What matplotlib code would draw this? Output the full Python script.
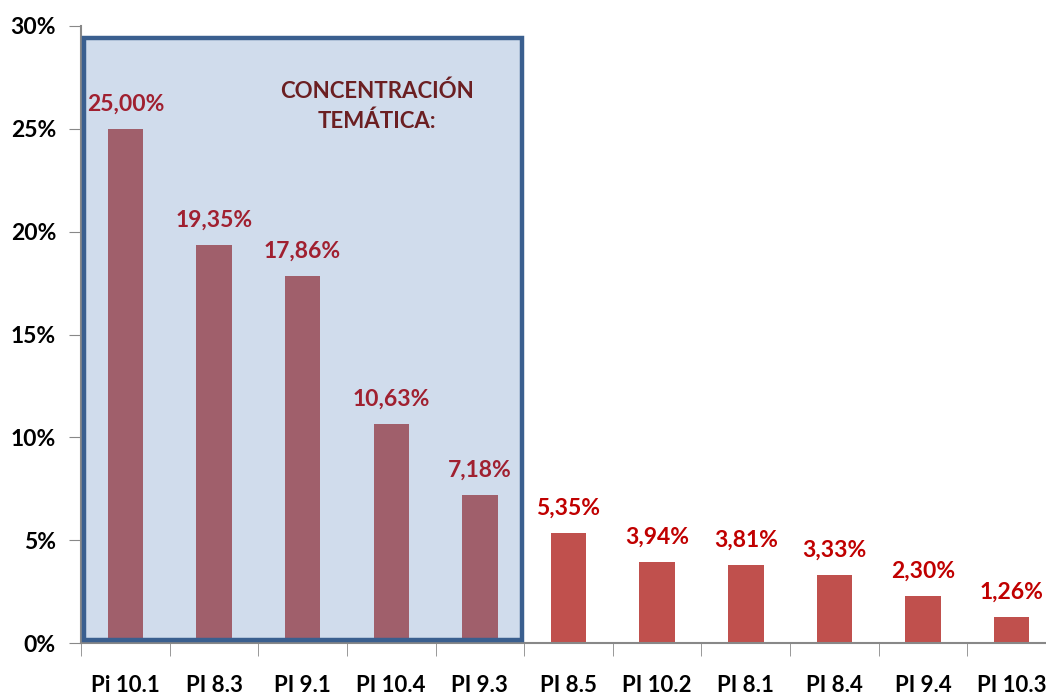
import matplotlib.pyplot as plt
from matplotlib.patches import Rectangle
from matplotlib.ticker import FuncFormatter, FixedLocator

categories = ["Pi 10.1", "PI 8.3", "PI 9.1", "PI 10.4", "PI 9.3", "PI 8.5",
              "PI 10.2", "PI 8.1", "PI 8.4", "PI 9.4", "PI 10.3"]
values = [25.00, 19.35, 17.86, 10.63, 7.18, 5.35, 3.94, 3.81, 3.33, 2.30, 1.26]
n_focus = 5  # first five inside the highlight box

plt.rcParams['font.family'] = ['Lato', 'DejaVu Sans']

fig = plt.figure(figsize=(10.46, 6.97), dpi=100)
ax = fig.add_axes([81 / 1046, 54 / 697, 975 / 1046, 617 / 697])

x = list(range(len(categories)))
bar_colors = ["#A05F6B" if i < n_focus else "#C0504D" for i in x]
ax.bar(x, values, width=0.4, color=bar_colors, zorder=2)

# highlight box: fill behind bars, border on top
box_x0, box_x1 = -0.47, 4.48
box_y0, box_y1 = 0.15, 29.4
ax.add_patch(Rectangle((box_x0, box_y0), box_x1 - box_x0, box_y1 - box_y0,
                       facecolor="#D0DCEC", edgecolor="none", zorder=1))
ax.add_patch(Rectangle((box_x0, box_y0), box_x1 - box_x0, box_y1 - box_y0,
                       facecolor="none", edgecolor="#3A5F8F", linewidth=3.2, zorder=4))

ax.text(2.84, 26.1, "CONCENTRACIÓN\nTEMÁTICA:", ha="center", va="center",
        fontsize=16, fontweight="bold", color="#6B1F22", linespacing=1.45, zorder=5)

for i, v in enumerate(values):
    col = "#A02030" if i < n_focus else "#C00000"
    ax.text(i, v + 1.2, f"{v:.2f}%".replace(".", ","), ha="center", va="center",
            fontsize=16.5, fontweight="bold", color=col, zorder=5)

ax.set_xlim(-0.5, len(categories) - 0.5)
ax.set_ylim(0, 30)
ax.set_yticks([0, 5, 10, 15, 20, 25, 30])
ax.yaxis.set_major_formatter(FuncFormatter(lambda v, p: f"{v:.0f}%"))

ax.set_xticks(x)
ax.set_xticklabels(categories)
ax.xaxis.set_minor_locator(FixedLocator([i - 0.5 for i in range(len(categories) + 1)]))
ax.tick_params(axis="x", which="major", length=0, pad=23, labelsize=16)
ax.tick_params(axis="x", which="minor", length=9, color="#888888", direction="out")
ax.tick_params(axis="y", length=9, color="#888888", direction="out", pad=9, labelsize=16.5)
for lab in ax.get_xticklabels() + ax.get_yticklabels():
    lab.set_fontweight("bold")

for s in ["top", "right"]:
    ax.spines[s].set_visible(False)
for s in ["left", "bottom"]:
    ax.spines[s].set_color("#888888")
    ax.spines[s].set_linewidth(1.5)

fig.savefig("out.png", dpi=100)
